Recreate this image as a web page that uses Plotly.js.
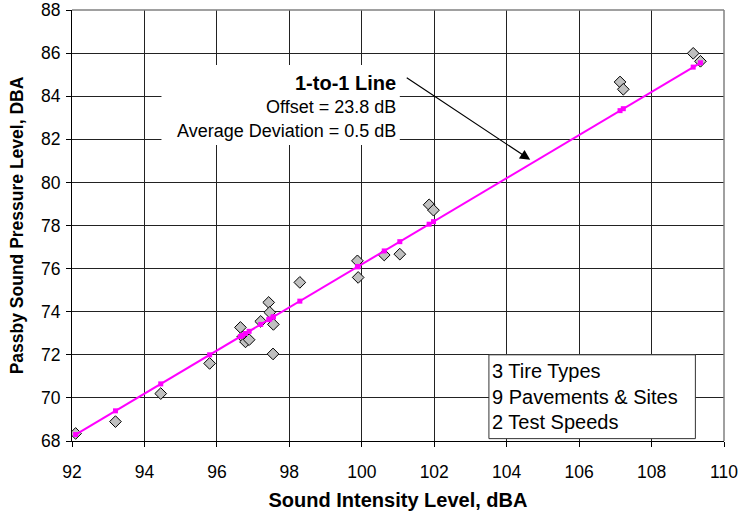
<!DOCTYPE html>
<html>
<head>
<meta charset="utf-8">
<script src="https://cdn.plot.ly/plotly-3.0.1.min.js"></script>
<style>html,body{margin:0;padding:0;background:#fff}</style>
</head>
<body>
<div id="chart" style="width:739px;height:513px"></div>
<script>
// Measured pairs: sound intensity level (x) vs passby sound pressure level (y), dBA
const intensityLevel = [92.10, 93.20, 94.45, 95.80, 96.65, 96.71, 96.79, 96.89, 97.21, 97.43, 97.46, 97.56,
                        97.55, 98.29, 99.88, 99.90, 100.62, 101.05, 101.86, 101.98, 107.13, 107.22, 109.15, 109.35];
const passbyLevel    = [68.35, 68.90, 70.20, 71.60, 73.27, 72.83, 72.60, 72.70, 73.55, 74.43, 73.97, 73.41,
                        72.04, 75.36, 76.36, 75.59, 76.63, 76.67, 78.96, 78.71, 84.66, 84.32, 85.99, 85.62];

// 1-to-1 line parameters
const OFFSET_DB = 23.8;
const AVG_DEVIATION_DB = 0.5;

const xTicks = [92, 94, 96, 98, 100, 102, 104, 106, 108, 110];
const yTicks = [68, 70, 72, 74, 76, 78, 80, 82, 84, 86, 88];
const conditionNotes = ['3 Tire Types', '9 Pavements & Sites', '2 Test Speeds'];

const FONT = 'Arial, "Liberation Sans", sans-serif';

// 1-to-1 line evaluated at each measured intensity level
const lineX = intensityLevel.slice().sort((a, b) => a - b);
const lineY = lineX.map(x => +(x - OFFSET_DB).toFixed(2));

const measured = {
  x: intensityLevel, y: passbyLevel, type: 'scatter', mode: 'markers',
  marker: {symbol: 'diamond', size: 9, color: '#c0c0c0', line: {color: '#000', width: 1}},
  hoverinfo: 'x+y', showlegend: false
};
const oneToOne = {
  x: lineX, y: lineY, type: 'scatter', mode: 'lines+markers',
  line: {color: '#ff00ff', width: 2},
  marker: {symbol: 'square', size: 5, color: '#ff00ff'},
  showlegend: false
};

const annotations = [
  // arrow pointing at the line
  {x: 104.65, y: 81.05, ax: 101.2, ay: 84.9, axref: 'x', ayref: 'y', xref: 'x', yref: 'y',
   text: '', showarrow: true, arrowhead: 2, arrowsize: 1.7, arrowwidth: 1.2, arrowcolor: '#000', standoff: 0},
  {x: 101.0, y: 84.62, xref: 'x', yref: 'y', xanchor: 'right', yanchor: 'middle', showarrow: false,
   text: '<b>1-to-1 Line</b>', font: {family: FONT, size: 20, color: '#000'}},
  {x: 101.0, y: 83.51, xref: 'x', yref: 'y', xanchor: 'right', yanchor: 'middle', showarrow: false,
   text: 'Offset = ' + OFFSET_DB.toFixed(1) + ' dB', font: {family: FONT, size: 18, color: '#000'}},
  {x: 101.0, y: 82.39, xref: 'x', yref: 'y', xanchor: 'right', yanchor: 'middle', showarrow: false,
   text: 'Average Deviation = ' + AVG_DEVIATION_DB.toFixed(1) + ' dB', font: {family: FONT, size: 18, color: '#000'}}
];
const noteY = [71.23, 70.04, 68.89];
conditionNotes.forEach((t, i) => annotations.push({
  x: 103.55, y: noteY[i], xref: 'x', yref: 'y', xanchor: 'left', yanchor: 'middle', showarrow: false,
  text: t, font: {family: FONT, size: 20, color: '#000'}
}));

const shapes = [
  // white panel behind the line description
  {type: 'rect', xref: 'x', yref: 'y', x0: 94.47, x1: 101.05, y0: 81.74, y1: 85.45,
   fillcolor: '#fff', line: {width: 0}, layer: 'above'},
  // boxed test-condition notes
  {type: 'rect', xref: 'x', yref: 'y', x0: 103.51, x1: 109.21, y0: 68.11, y1: 72.0,
   fillcolor: '#fff', line: {color: '#333', width: 1}, layer: 'above'},
  // grey top and right frame
  {type: 'line', xref: 'paper', yref: 'paper', x0: 0, x1: 1, y0: 1, y1: 1, line: {color: '#808080', width: 1.5}, layer: 'above'},
  {type: 'line', xref: 'paper', yref: 'paper', x0: 1, x1: 1, y0: 0, y1: 1, line: {color: '#808080', width: 1.5}, layer: 'above'}
];

const layout = {
  width: 739, height: 513,
  margin: {l: 72, r: 15, t: 10, b: 72},
  paper_bgcolor: '#fff', plot_bgcolor: '#fff',
  font: {family: FONT, color: '#000'},
  xaxis: {
    range: [92, 110], tickvals: xTicks, ticktext: xTicks.map(String),
    showgrid: true, gridcolor: '#222', gridwidth: 1, zeroline: false,
    showline: true, linecolor: '#000', linewidth: 1,
    ticks: 'outside', ticklen: 5, tickcolor: '#000', ticklabelstandoff: 10,
    tickfont: {family: FONT, size: 17.5, color: '#000'},
    title: {text: '<b>Sound Intensity Level, dBA</b>', font: {family: FONT, size: 20, color: '#000'}, standoff: 11},
    automargin: false
  },
  yaxis: {
    range: [68, 88], tickvals: yTicks, ticktext: yTicks.map(String),
    showgrid: true, gridcolor: '#222', gridwidth: 1, zeroline: false,
    showline: true, linecolor: '#000', linewidth: 1,
    ticks: 'outside', ticklen: 5, tickcolor: '#000', ticklabelstandoff: 2,
    tickfont: {family: FONT, size: 17.5, color: '#000'},
    title: {text: '<b>Passby Sound Pressure Level, DBA</b>', font: {family: FONT, size: 17.5, color: '#000'}, standoff: 12},
    automargin: false
  },
  shapes: shapes,
  annotations: annotations,
  showlegend: false
};

Plotly.newPlot('chart', [measured, oneToOne], layout, {displayModeBar: false, staticPlot: true});
</script>
</body>
</html>
